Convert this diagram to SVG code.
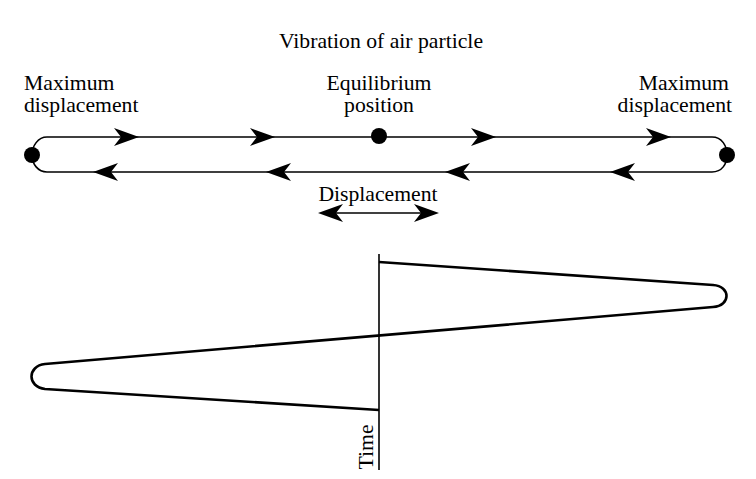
<svg xmlns="http://www.w3.org/2000/svg" width="756" height="479" viewBox="0 0 756 479">
<style>
text{font-family:"Liberation Serif","DejaVu Serif",serif;font-size:21.7px;fill:#000}
.ln{fill:none;stroke:#000;stroke-width:1.6}
.saw{fill:none;stroke:#000;stroke-width:2.6;stroke-linejoin:round}
.ah{fill:#000}
</style>
<defs>
<path id="ar" d="M0,0 L-25,-9 L-18,0 L-25,9 Z"/>
</defs>
<rect width="756" height="479" fill="#fff"/>
<text x="381" y="48" text-anchor="middle">Vibration of air particle</text>
<g id="label-left">
<text x="24" y="90">Maximum</text>
<text x="24" y="112">displacement</text>
</g>
<g id="label-mid">
<text x="379" y="90" text-anchor="middle">Equilibrium</text>
<text x="379" y="112" text-anchor="middle">position</text>
</g>
<g id="label-right">
<text x="729" y="90" text-anchor="end">Maximum</text>
<text x="732" y="112" text-anchor="end">displacement</text>
</g>
<g id="connectors">
<path class="ln" d="M47,137 H712 C722,137 727,146 727,155 C727,164 722,172 712,172 H47 C38,172 32,164 32,155 C32,146 38,137 47,137 Z"/>
<use href="#ar" class="ah" transform="translate(139,137)"/>
<use href="#ar" class="ah" transform="translate(275,137)"/>
<use href="#ar" class="ah" transform="translate(496,137)"/>
<use href="#ar" class="ah" transform="translate(671,137)"/>
<use href="#ar" class="ah" transform="translate(93,172) rotate(180)"/>
<use href="#ar" class="ah" transform="translate(266,172) rotate(180)"/>
<use href="#ar" class="ah" transform="translate(445,172) rotate(180)"/>
<use href="#ar" class="ah" transform="translate(610,172) rotate(180)"/>
<line class="ln" x1="330" y1="213" x2="428" y2="213"/>
<use href="#ar" class="ah" transform="translate(318,213) rotate(180)"/>
<use href="#ar" class="ah" transform="translate(439,213)"/>
</g>
<g id="dot-left"><circle cx="32" cy="155" r="8"/></g>
<g id="dot-mid"><circle cx="379" cy="136" r="8"/></g>
<g id="dot-right"><circle cx="727" cy="155" r="8"/></g>
<text x="378" y="201" text-anchor="middle">Displacement</text>
<g id="graph">
<line class="ln" x1="379" y1="254" x2="379" y2="470"/>
<path class="saw" d="M379,262 L713,285 C731,286 731,306 713,307 L45,364 C27,366 27,387 45,389 L379,410"/>
<text transform="translate(373,447) rotate(-90)" text-anchor="middle">Time</text>
</g>
</svg>
